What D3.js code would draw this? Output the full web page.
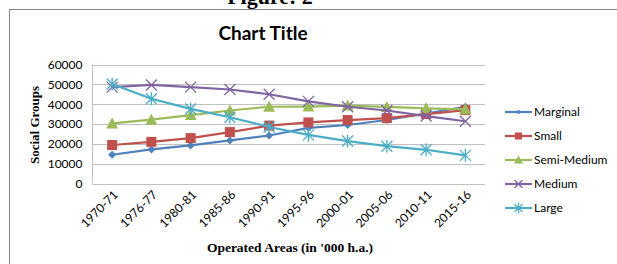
<!DOCTYPE html>
<html>
<head>
<meta charset="utf-8">
<script src="https://cdn.jsdelivr.net/npm/d3@7"></script>
<style>
  body { margin: 0; background: #fff; }
  svg text { font-family: Lato, "Open Sans", sans-serif; }
</style>
</head>
<body>
<div id="chart"></div>
<script>
const years = ['1970-71', '1976-77', '1980-81', '1985-86', '1990-91', '1995-96', '2000-01', '2005-06', '2010-11', '2015-16'];
const yTicks = [0, 10000, 20000, 30000, 40000, 50000, 60000];

const marginal   = [14500, 17200, 19200, 21700, 24200, 28000, 29500, 32000, 35300, 38700];
const small      = [19400, 21000, 22900, 25900, 29200, 30800, 32000, 33000, 35000, 37000];
const semiMedium = [30300, 32200, 34500, 36800, 38700, 38800, 39300, 38600, 37900, 37400];
const medium     = [48600, 49700, 48600, 47400, 45000, 41400, 38700, 36800, 34000, 31400];
const large      = [50200, 42700, 37600, 33400, 28500, 24500, 21400, 18800, 17000, 14200];

const seriesNames = ['Marginal', 'Small', 'Semi-Medium', 'Medium', 'Large'];
const seriesValues = [marginal, small, semiMedium, medium, large];
const colors = ['#4F81BD', '#C0504D', '#9BBB59', '#8064A2', '#4BACC6'];
const markers = ['diamond', 'square', 'triangle', 'x', 'star'];

const width = 617, height = 264;
const plot = { left: 92.5, right: 485, top: 64.5, bottom: 183.5 };

const svg = d3.select('#chart').append('svg')
  .attr('width', width)
  .attr('height', height);

// figure caption (cut off at the top, as in the source)
svg.append('text')
  .attr('x', 270).attr('y', 4)
  .attr('text-anchor', 'middle')
  .style('font-family', '"Liberation Serif", serif')
  .style('font-weight', 'bold')
  .style('font-size', '22px')
  .text('Figure: 2');

// chart frame
svg.append('rect')
  .attr('x', 9.5).attr('y', 9.5)
  .attr('width', 640).attr('height', 280)
  .attr('fill', '#fff')
  .attr('stroke', '#868686');

svg.append('text')
  .attr('x', 263).attr('y', 40)
  .attr('text-anchor', 'middle')
  .style('font-weight', 'bold')
  .style('font-size', '19px')
  .text('Chart Title');

const x = d3.scalePoint().domain(years).range([plot.left, plot.right]).padding(0.5);
const y = d3.scaleLinear().domain([0, 60000]).range([plot.bottom, plot.top]);

// gridlines
svg.append('g')
  .selectAll('line')
  .data(yTicks)
  .enter().append('line')
  .attr('x1', plot.left).attr('x2', plot.right)
  .attr('y1', d => Math.round(y(d)) + 0.5).attr('y2', d => Math.round(y(d)) + 0.5)
  .attr('stroke', '#c0c0c0');

svg.append('line')
  .attr('x1', plot.left).attr('x2', plot.left)
  .attr('y1', y(60000)).attr('y2', plot.bottom)
  .attr('stroke', '#c0c0c0');

const yAxis = svg.append('g')
  .attr('transform', 'translate(' + plot.left + ',0)')
  .call(d3.axisLeft(y).tickValues(yTicks).tickSize(0).tickPadding(10).tickFormat(d3.format('d')));
yAxis.select('.domain').remove();
yAxis.selectAll('text').style('font-size', '12px').attr('fill', '#000')
  .style('font-family', 'Lato, sans-serif');

const xAxis = svg.append('g')
  .attr('transform', 'translate(0,' + plot.bottom + ')')
  .call(d3.axisBottom(x).tickSize(0).tickPadding(0));
xAxis.select('.domain').remove();
xAxis.selectAll('text')
  .style('font-size', '12px')
  .style('font-family', 'Lato, sans-serif')
  .attr('fill', '#000')
  .attr('text-anchor', 'end')
  .attr('dy', 0)
  .attr('transform', 'translate(6,12) rotate(-45)');

svg.append('text')
  .attr('transform', 'translate(39,125) rotate(-90)')
  .attr('text-anchor', 'middle')
  .style('font-family', '"Liberation Serif", serif')
  .style('font-weight', 'bold')
  .style('font-size', '13px')
  .text('Social Groups');

svg.append('text')
  .attr('x', 290).attr('y', 252)
  .attr('text-anchor', 'middle')
  .style('font-family', '"Liberation Serif", serif')
  .style('font-weight', 'bold')
  .style('font-size', '13.5px')
  .text("Operated Areas (in '000 h.a.)");

const line = d3.line()
  .x((d, i) => x(years[i]))
  .y(d => y(d));

const drawMarker = (g, type, color, s) => {
  if (type === 'diamond') {
    g.append('path').attr('d', `M0,${-s}L${s},0L0,${s}L${-s},0Z`).attr('fill', color);
  } else if (type === 'square') {
    g.append('rect').attr('x', -s).attr('y', -s).attr('width', 2 * s).attr('height', 2 * s).attr('fill', color);
  } else if (type === 'triangle') {
    g.append('path').attr('d', `M0,${-s - 1}L${s + 1},${s}L${-s - 1},${s}Z`).attr('fill', color);
  } else if (type === 'x') {
    g.append('path').attr('d', `M${-s},${-s}L${s},${s}M${-s},${s}L${s},${-s}`)
      .attr('stroke', color).attr('stroke-width', 1.3).attr('fill', 'none');
  } else {
    g.append('path').attr('d', `M${-s},${-s}L${s},${s}M${-s},${s}L${s},${-s}M0,${-s - 1}L0,${s + 1}`)
      .attr('stroke', color).attr('stroke-width', 1.3).attr('fill', 'none');
  }
};

const sizes = [4, 5, 5, 5.5, 5.5];

seriesValues.forEach((vals, si) => {
  const g = svg.append('g').attr('class', 'series');
  g.append('path')
    .attr('d', line(vals))
    .attr('fill', 'none')
    .attr('stroke', colors[si])
    .attr('stroke-width', 2.2);
  vals.forEach((v, i) => {
    const m = g.append('g').attr('transform', 'translate(' + x(years[i]) + ',' + y(v) + ')');
    drawMarker(m, markers[si], colors[si], sizes[si]);
  });
});

// legend
const legend = svg.selectAll('.legend')
  .data(seriesNames)
  .enter().append('g')
  .attr('class', 'legend')
  .attr('transform', (d, i) => 'translate(505,' + (112 + i * 24) + ')');

legend.append('line')
  .attr('x1', 0).attr('x2', 27)
  .attr('stroke', (d, i) => colors[i])
  .attr('stroke-width', 2.2);

legend.each(function (d, i) {
  const m = d3.select(this).append('g').attr('transform', 'translate(13.5,0)');
  drawMarker(m, markers[i], colors[i], [2.5, 3.5, 3.5, 4, 4][i]);
});

legend.append('text')
  .attr('x', 29).attr('y', 4)
  .style('font-size', '12px')
  .text(d => d);
</script>
</body>
</html>
